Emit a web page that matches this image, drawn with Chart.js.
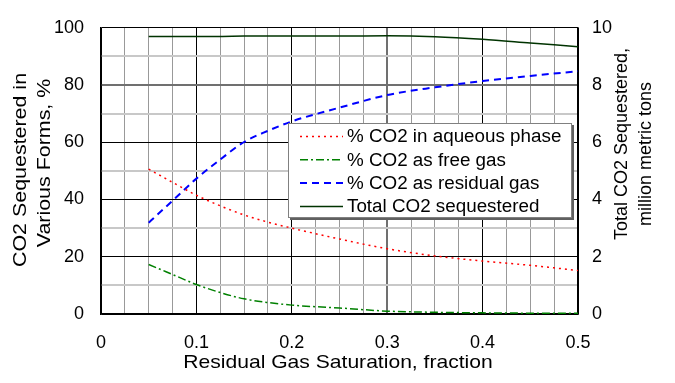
<!DOCTYPE html>
<html>
<head>
<meta charset="utf-8">
<script src="https://cdn.jsdelivr.net/npm/chart.js@4"></script>
<style>
  html, body { margin: 0; padding: 0; background: #fff; }
  #wrap { width: 675px; height: 383px; }
</style>
</head>
<body>
<div id="wrap"><canvas id="grafica"></canvas></div>
<script>
const saturation = [0.05, 0.075, 0.1, 0.125, 0.15, 0.175, 0.2, 0.25, 0.3, 0.35, 0.4, 0.45, 0.5];
const aqueous    = [50.6, 46, 41.5, 37.8, 34.6, 32.1, 30, 26.2, 22.8, 20.3, 18.5, 17, 15.2];
const freeGas    = [17.3, 13.8, 10.3, 7.5, 5.3, 4, 3.1, 2.1, 1.0, 0.6, 0.4, 0.3, 0.3];
const residual   = [31.9, 39.6, 47.3, 54, 60.1, 64, 67.3, 72.1, 76.5, 79.2, 81.4, 83.2, 84.8];
const total      = [9.70, 9.70, 9.70, 9.70, 9.71, 9.71, 9.71, 9.71, 9.72, 9.69, 9.60, 9.47, 9.34];

const seriesNames = ['% CO2 in aqueous phase', '% CO2 as free gas', '% CO2 as residual gas', 'Total CO2 sequestered'];
const seriesColors = ['#ff0000', '#008000', '#0000ff', '#003300'];
const seriesDash = [[2, 4], [8, 3, 2, 3], [7, 5], []];
const seriesWidth = [1.5, 1.5, 2, 1.5];

const FONT = "'Liberation Sans', Arial, sans-serif";

function pts(ys) { return saturation.map((x, i) => ({ x: x, y: ys[i] })); }

function near(v, step) { return Math.abs(v / step - Math.round(v / step)) < 1e-6; }

const datasets = [aqueous, freeGas, residual, total].map((ys, i) => ({
  label: seriesNames[i],
  data: pts(ys),
  yAxisID: i === 3 ? 'y1' : 'y',
  borderColor: seriesColors[i],
  borderDash: seriesDash[i],
  borderWidth: seriesWidth[i],
  pointRadius: 0,
  fill: false,
  cubicInterpolationMode: 'monotone'
}));

// text with a horizontal stretch, optionally rotated
function stretchText(c, txt, x, y, size, sx, rot, align) {
  c.save();
  c.translate(x, y);
  if (rot) c.rotate(-Math.PI / 2);
  c.scale(sx, 1);
  c.font = size + 'px ' + FONT;
  c.textAlign = align || 'center';
  c.textBaseline = 'middle';
  c.fillText(txt, 0, 0);
  c.restore();
}

// legend box + axis titles drawn by hand
const extras = {
  id: 'extras',
  afterDraw(chart) {
    const c = chart.ctx;
    c.save();
    const bx = 288, by = 123, bw = 284, bh = 95;
    c.fillStyle = '#606060';
    c.fillRect(bx + 2, by + 2, bw, bh);
    c.fillStyle = '#fff';
    c.fillRect(bx, by, bw, bh);
    c.strokeStyle = '#808080';
    c.lineWidth = 1;
    c.strokeRect(bx + 0.5, by + 0.5, bw - 1, bh - 1);
    seriesNames.forEach((name, i) => {
      const yy = by + 13.5 + i * 23.3;
      c.beginPath();
      c.setLineDash(seriesDash[i]);
      c.strokeStyle = seriesColors[i];
      c.lineWidth = seriesWidth[i];
      c.moveTo(300, yy);
      c.lineTo(343, yy);
      c.stroke();
      c.setLineDash([]);
      c.fillStyle = '#000';
      stretchText(c, name, 347, yy + 1, 18, 1.045, false, 'left');
    });
    c.fillStyle = '#000';
    stretchText(c, 'Residual Gas Saturation, fraction', 338, 363, 19, 1.11, false);
    stretchText(c, 'CO2 Sequestered in', 21, 170, 18, 1.19, true);
    stretchText(c, 'Various Forms, %', 45, 163, 18, 1.19, true);
    stretchText(c, 'Total CO2 Sequestered,', 622, 144, 18, 1, true);
    stretchText(c, 'million metric tons', 646, 154, 18, 1, true);
    c.restore();
  }
};

new Chart(document.getElementById('grafica'), {
  type: 'line',
  data: { datasets: datasets },
  options: {
    responsive: true,
    maintainAspectRatio: false,
    animation: false,
    layout: { padding: { top: 12, right: 0, left: 0, bottom: 0 } },
    plugins: { legend: { display: false }, tooltip: { enabled: false }, title: { display: false } },
    scales: {
      x: {
        type: 'linear', min: 0, max: 0.5,
        afterFit: s => { s.height = 69; },
        ticks: {
          stepSize: 0.025, autoSkip: false, maxRotation: 0, padding: 18,
          color: '#000', font: { family: FONT, size: 18 },
          callback: v => near(v, 0.1) ? String(Math.round(v * 10) / 10) : ''
        },
        grid: {
          drawTicks: false,
          color: ctx => near(ctx.tick.value, 0.1) ? (near(ctx.tick.value - 0.3, 1) ? '#707070' : '#000') : '#999999',
          lineWidth: ctx => near(ctx.tick.value - 0.3, 1) ? 2 : 1
        },
        border: { color: '#000', width: 1.5 }
      },
      y: {
        position: 'left', min: 0, max: 100,
        afterFit: s => { s.width = 101; },
        ticks: {
          stepSize: 10, padding: 17, color: '#000', font: { family: FONT, size: 18 },
          callback: v => near(v, 20) ? String(v) : ''
        },
        grid: {
          drawTicks: false,
          color: ctx => {
            const v = ctx.tick.value;
            if (v === 100) return '#000';
            if (v === 80) return '#707070';
            return near(v, 20) ? '#000' : '#c8c8c8';
          },
          lineWidth: ctx => {
            const v = ctx.tick.value;
            return (v === 80 || !near(v, 20)) ? 2 : 1;
          }
        },
        border: { color: '#000', width: 1.5 }
      },
      y1: {
        position: 'right', min: 0, max: 10,
        afterFit: s => { s.width = 97; },
        ticks: { stepSize: 2, padding: 14, color: '#000', font: { family: FONT, size: 18 } },
        grid: { display: false, drawTicks: false },
        border: { color: '#000', width: 1.5 }
      }
    }
  },
  plugins: [extras]
});
</script>
</body>
</html>
